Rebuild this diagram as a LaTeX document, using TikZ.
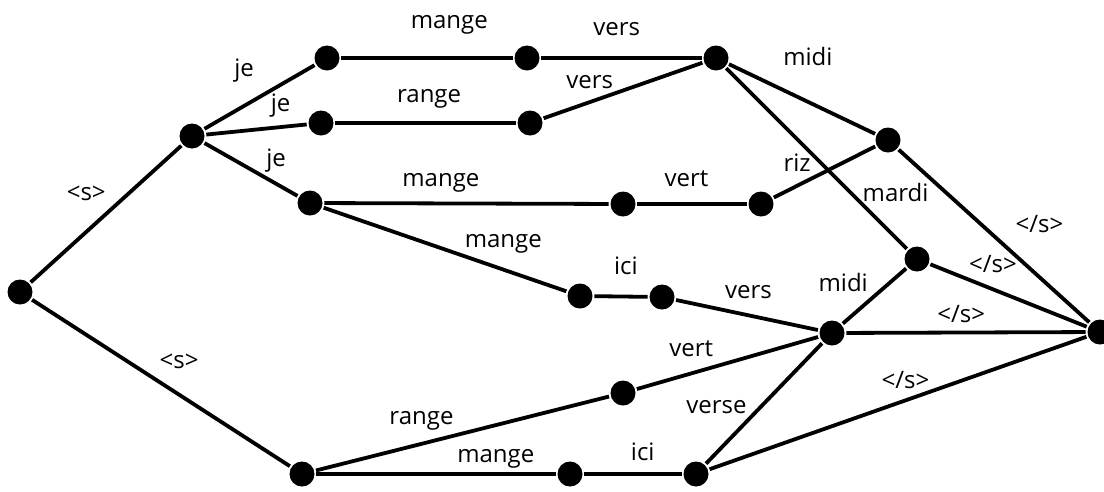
\documentclass[tikz,border=0pt]{standalone}
\usepackage{fontspec}
\setmainfont{Open Sans}

\begin{document}
\begin{tikzpicture}[
        x=1pt, y=-1pt, % pixel units, y down
        state/.style={circle, fill=black, minimum size=25pt, inner sep=0pt}, % lattice states
        word/.style={inner sep=0pt, font=\fontsize{24}{24}\selectfont}, % word labels
        every path/.style={line width=3.8pt},
    ]
    \useasboundingbox (0,0) rectangle (1104,491);

    % states
    \node[state] (q0) at (20,292) {};
    \node[state] (q1) at (192,136) {};
    \node[state] (q2) at (327,58) {};
    \node[state] (q3) at (527,58) {};
    \node[state] (q4) at (716,58) {};
    \node[state] (q5) at (321,123) {};
    \node[state] (q6) at (530,123) {};
    \node[state] (q7) at (310,203) {};
    \node[state] (q8) at (623,204) {};
    \node[state] (q9) at (761,204) {};
    \node[state] (q10) at (888,140) {};
    \node[state] (q11) at (917,259) {};
    \node[state] (q12) at (580,296) {};
    \node[state] (q13) at (662,297) {};
    \node[state] (q14) at (832,333) {};
    \node[state] (q15) at (302,474) {};
    \node[state] (q16) at (623,393) {};
    \node[state] (q17) at (570,474) {};
    \node[state] (q18) at (696,474) {};
    \node[state] (q19) at (1100,332) {};

    % <s>
    \draw (q0) -- node[word, pos=.65, left=21pt] {<s>} (q1);
    \draw (q0) -- node[word, pos=.57, above=24pt] {<s>} (q15);

    % je ...
    \draw (q1) -- node[word, pos=.36, above=22pt] {je} (q2);
    \draw (q1) -- node[word, pos=.74, above=8pt] {je} (q5);
    \draw (q1) -- node[word, pos=.77, above=10pt] {je} (q7);

    \draw (q2) -- node[word, pos=.63, above=22pt] {mange} (q3);
    \draw (q3) -- node[word, pos=.47, above=20pt] {vers} (q4);
    \draw (q5) -- node[word, pos=.52, above=13pt] {range} (q6);
    \draw (q6) -- node[word, pos=.29, above=12pt] {vers} (q4);
    \draw (q4) -- node[word, pos=.54, above=34pt] {midi} (q10);
    \draw (q4) -- node[word, pos=.69, right=10pt] {mardi} (q11);

    \draw (q7) -- node[word, pos=.41, above=9pt] {mange} (q8);
    \draw (q8) -- node[word, pos=.45, above=15pt] {vert} (q9);
    \draw (q9) -- node[word, pos=.23, above=12pt] {riz} (q10);

    \draw (q7) -- node[word, pos=.74, above=14pt] {mange} (q12);
    \draw (q12) -- node[word, pos=.59, above=20pt] {ici} (q13);
    \draw (q13) -- node[word, pos=.51, above=15pt] {vers} (q14);
    \draw (q14) -- node[word, pos=.74, left=20pt] {midi} (q11);

    % ... range / mange
    \draw (q15) -- node[word, pos=.36, above=12pt] {range} (q16);
    \draw (q16) -- node[word, pos=.30, above=15pt] {vert} (q14);
    \draw (q15) -- node[word, pos=.75, above=4pt] {mange} (q17);
    \draw (q17) -- node[word, pos=.6, above=11pt] {ici} (q18);
    \draw (q18) -- node[word, pos=.47, left=12pt] {verse} (q14);

    % </s>
    \draw (q10) -- node[word, pos=.43, right=33pt] {</s>} (q19);
    \draw (q11) -- node[word, pos=.4, above=15pt] {</s>} (q19);
    \draw (q14) -- node[word, pos=.48, above=8pt] {</s>} (q19);
    \draw (q18) -- node[word, pos=.52, above=10pt] {</s>} (q19);
\end{tikzpicture}
\end{document}
